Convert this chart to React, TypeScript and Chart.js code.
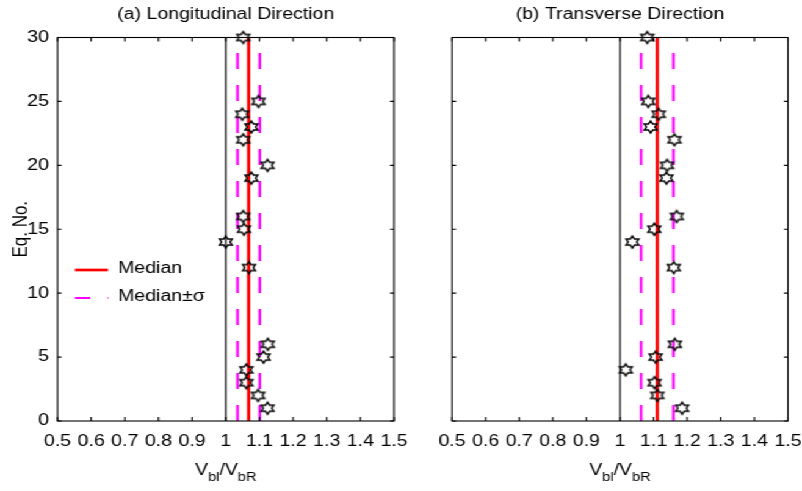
import React, { useEffect, useRef } from 'react';
import { Chart, registerables } from 'chart.js';
Chart.register(...registerables);

// ---------------- data ----------------
const EQ_NO = [1, 2, 3, 4, 5, 6, 12, 14, 15, 16, 19, 20, 22, 23, 24, 25, 30];
const LONG_RATIO = [1.124, 1.096, 1.061, 1.061, 1.112, 1.125, 1.069, 1.0, 1.054, 1.052, 1.076, 1.124, 1.052, 1.076, 1.049, 1.097, 1.052];
const TRANS_RATIO = [1.185, 1.111, 1.103, 1.017, 1.106, 1.163, 1.16, 1.037, 1.102, 1.169, 1.138, 1.14, 1.162, 1.091, 1.115, 1.084, 1.081];
const LONG_MEDIAN = 1.068;
const LONG_SIGMA = 0.033;
const TRANS_MEDIAN = 1.111;
const TRANS_SIGMA = 0.048;
const UNITY = 1;
const X_TICKS = [0.5, 0.6, 0.7, 0.8, 0.9, 1, 1.1, 1.2, 1.3, 1.4, 1.5];
const Y_TICKS = [0, 5, 10, 15, 20, 25, 30];
const TITLES = ['(a) Longitudinal Direction', '(b) Transverse Direction'];
const LEGEND_LABELS = ['Median', 'Median\u00B1\u03C3'];
const Y_TITLE = 'Eq. No.';

// ---------------- styling ----------------
const K = 1.2207; // horizontal stretch of the reference
const FONT = '"Liberation Sans", Arial, Helvetica, sans-serif';

function makeStar(): HTMLCanvasElement {
  const c = document.createElement('canvas');
  c.width = 16;
  c.height = 16;
  const ctx = c.getContext('2d')!;
  const R = 6.0;
  const r = R / Math.sqrt(3);
  ctx.beginPath();
  for (let i = 0; i < 12; i++) {
    const a = -Math.PI / 2 + (i * Math.PI) / 6;
    const rad = i % 2 === 0 ? R : r;
    const px = 8 + rad * Math.cos(a);
    const py = 8 + rad * Math.sin(a);
    if (i === 0) ctx.moveTo(px, py);
    else ctx.lineTo(px, py);
  }
  ctx.closePath();
  ctx.strokeStyle = '#000';
  ctx.lineWidth = 1.45;
  ctx.stroke();
  return c;
}

const framePlugin = {
  id: 'frame',
  afterDraw(chart: any) {
    const { ctx, chartArea, scales } = chart;
    const { left, right, top, bottom } = chartArea;
    ctx.save();
    ctx.strokeStyle = '#000';
    ctx.lineWidth = 1.1;
    ctx.setLineDash([]);
    ctx.strokeRect(left, top, right - left, bottom - top);
    ctx.beginPath();
    X_TICKS.forEach((v) => {
      const px = scales.x.getPixelForValue(v);
      ctx.moveTo(px, bottom);
      ctx.lineTo(px, bottom - 4);
      ctx.moveTo(px, top);
      ctx.lineTo(px, top + 4);
    });
    Y_TICKS.forEach((v) => {
      const py = scales.y.getPixelForValue(v);
      ctx.moveTo(left, py);
      ctx.lineTo(left + 3.3, py);
      ctx.moveTo(right, py);
      ctx.lineTo(right - 3.3, py);
    });
    ctx.stroke();

    // x-axis label V_bl / V_bR
    const cx = (left + right) / 2;
    const big = `16px ${FONT}`;
    const small = `12px ${FONT}`;
    const parts: [string, string, number][] = [
      ['V', big, 0],
      ['bl', small, 6],
      ['/V', big, 0],
      ['bR', small, 6],
    ];
    let total = 0;
    parts.forEach(([t, f]) => {
      ctx.font = f;
      total += ctx.measureText(t).width;
    });
    let x = cx - total / 2;
    const base = 475;
    ctx.fillStyle = '#000';
    ctx.textBaseline = 'alphabetic';
    ctx.textAlign = 'left';
    parts.forEach(([t, f, dy]) => {
      ctx.font = f;
      ctx.fillText(t, x, base + dy);
      x += ctx.measureText(t).width;
    });
    ctx.restore();
  },
};

const legendPlugin = {
  id: 'innerLegend',
  afterDraw(chart: any, _args: any, opts: any) {
    if (!opts || !opts.show) return;
    const { ctx, chartArea } = chart;
    const ds = chart.data.datasets;
    const left = chartArea.left;
    const rows = [
      { d: ds[1], y: 270, label: LEGEND_LABELS[0] },
      { d: ds[2], y: 298, label: LEGEND_LABELS[1] },
    ];
    ctx.save();
    rows.forEach((row) => {
      ctx.beginPath();
      ctx.strokeStyle = row.d.borderColor;
      ctx.lineWidth = row.d.borderWidth;
      ctx.setLineDash(row.d.borderDash ? [12.5, 14] : []);
      ctx.moveTo(left + 14.3, row.y);
      ctx.lineTo(left + 41.4, row.y);
      ctx.stroke();
      ctx.setLineDash([]);
      ctx.fillStyle = '#000';
      ctx.font = `16px ${FONT}`;
      ctx.textBaseline = 'middle';
      ctx.textAlign = 'left';
      ctx.fillText(row.label, left + 49.6, row.y - 1);
    });
    ctx.restore();
  },
};

function buildConfig(p: {
  ratios: number[];
  median: number;
  sigma: number;
  title: string;
  showY: boolean;
  yWidth: number;
  padRight: number;
  legend: boolean;
}): any {
  const star = makeStar();
  const yMin = Y_TICKS[0];
  const yMax = Y_TICKS[Y_TICKS.length - 1];
  const vline = (x: number) => [
    { x, y: yMin },
    { x, y: yMax },
  ];
  return {
    type: 'scatter',
    data: {
      datasets: [
        {
          label: 'data',
          data: EQ_NO.map((e, i) => ({ x: p.ratios[i], y: e })),
          pointStyle: star,
          pointRadius: 7,
          showLine: false,
          clip: false,
          order: 0,
        },
        {
          label: LEGEND_LABELS[0],
          data: vline(p.median),
          borderColor: '#ff0000',
          borderWidth: 2.7,
          pointRadius: 0,
          showLine: true,
          order: 1,
        },
        {
          label: LEGEND_LABELS[1],
          data: vline(p.median - p.sigma),
          borderColor: '#ff00ff',
          borderWidth: 2.2,
          borderDash: [16, 16],
          pointRadius: 0,
          showLine: true,
          order: 2,
        },
        {
          label: LEGEND_LABELS[1] + '+',
          data: vline(p.median + p.sigma),
          borderColor: '#ff00ff',
          borderWidth: 2.2,
          borderDash: [16, 16],
          pointRadius: 0,
          showLine: true,
          order: 3,
        },
        {
          label: 'unity',
          data: vline(UNITY),
          borderColor: '#000000',
          borderWidth: 1.2,
          pointRadius: 0,
          showLine: true,
          order: 4,
        },
      ],
    },
    options: {
      responsive: false,
      animation: false,
      devicePixelRatio: 1,
      events: [],
      layout: { padding: { left: 0, right: p.padRight, top: 0, bottom: 0 } },
      plugins: {
        legend: { display: false },
        tooltip: { enabled: false },
        innerLegend: { show: p.legend },
        title: {
          display: true,
          text: p.title,
          fullSize: false,
          color: '#000',
          font: { family: FONT, size: 16, weight: 'normal' },
          padding: { top: 4.9, bottom: 13.4 },
        },
      },
      scales: {
        x: {
          type: 'linear',
          position: 'bottom',
          min: X_TICKS[0],
          max: X_TICKS[X_TICKS.length - 1],
          afterBuildTicks: (s: any) => {
            s.ticks = X_TICKS.map((v) => ({ value: v }));
          },
          afterFit: (s: any) => {
            s.height = 70;
            s.paddingLeft = 0;
            s.paddingRight = 0;
          },
          grid: { display: false, drawTicks: false },
          border: { display: false },
          ticks: {
            color: '#000',
            font: { family: FONT, size: 16 },
            padding: 11,
            maxRotation: 0,
            autoSkip: false,
            callback: (v: any) => String(v),
          },
        },
        y: {
          type: 'linear',
          position: 'left',
          min: yMin,
          max: yMax,
          afterBuildTicks: (s: any) => {
            s.ticks = Y_TICKS.map((v) => ({ value: v }));
          },
          afterFit: (s: any) => {
            s.width = p.yWidth;
            s.paddingTop = 0;
            s.paddingBottom = 0;
          },
          grid: { display: false, drawTicks: false },
          border: { display: false },
          title: {
            display: p.showY,
            text: Y_TITLE,
            color: '#000',
            font: { family: FONT, size: 17 },
            padding: { top: 7, bottom: 0 },
          },
          ticks: {
            display: p.showY,
            color: '#000',
            font: { family: FONT, size: 16 },
            padding: 7,
            autoSkip: false,
            callback: (v: any) => String(v),
          },
        },
      },
    },
    plugins: [framePlugin, legendPlugin],
  };
}

export default function App() {
  const refA = useRef<HTMLCanvasElement>(null);
  const refB = useRef<HTMLCanvasElement>(null);

  useEffect(() => {
    const a = new Chart(
      refA.current!,
      buildConfig({
        ratios: LONG_RATIO,
        median: LONG_MEDIAN,
        sigma: LONG_SIGMA,
        title: TITLES[0],
        showY: true,
        yWidth: 47.1,
        padRight: 27.2,
        legend: true,
      })
    );
    const b = new Chart(
      refB.current!,
      buildConfig({
        ratios: TRANS_RATIO,
        median: TRANS_MEDIAN,
        sigma: TRANS_SIGMA,
        title: TITLES[1],
        showY: false,
        yWidth: 60.3,
        padRight: 11.5,
        legend: false,
      })
    );
    return () => {
      a.destroy();
      b.destroy();
    };
  }, []);

  return (
    <div
      style={{
        position: 'absolute',
        left: 0,
        top: 0,
        width: 657,
        height: 491,
        background: '#fff',
        transform: `scaleX(${K})`,
        transformOrigin: '0 0',
      }}
    >
      <canvas ref={refA} width={350} height={491} style={{ position: 'absolute', left: 0, top: 0 }} />
      <canvas ref={refB} width={347} height={491} style={{ position: 'absolute', left: 310, top: 0 }} />
    </div>
  );
}
